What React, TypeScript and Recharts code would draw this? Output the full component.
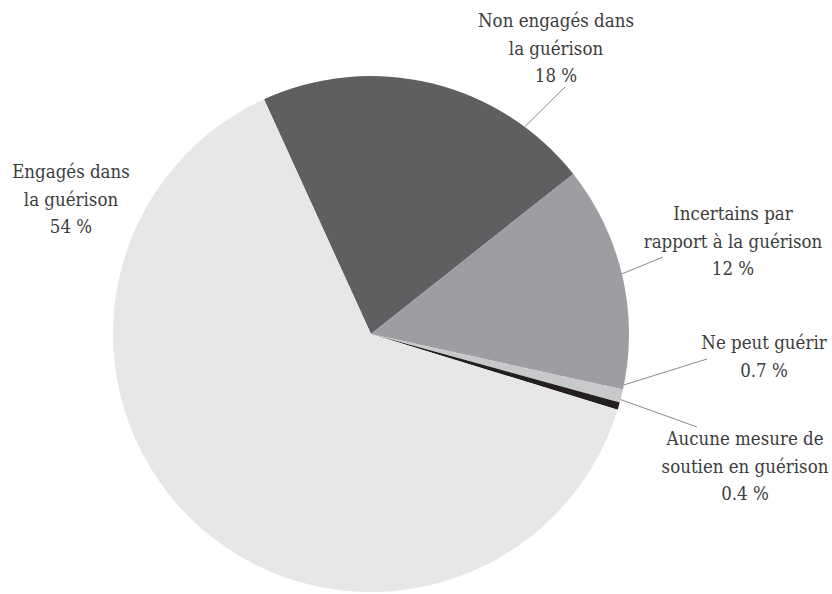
import { PieChart, Pie, Cell } from 'recharts';

// slices in clockwise order, starting at the top-left edge of the dark slice
const categories = [
  'Non engagés dans la guérison',
  'Incertains par rapport à la guérison',
  'Ne peut guérir',
  'Aucune mesure de soutien en guérison',
  'Engagés dans la guérison',
];
const shares = [18, 12, 0.7, 0.4, 54];
const shareLabels = ['18 %', '12 %', '0.7 %', '0.4 %', '54 %'];
const labelLines = [
  ['Non engagés dans', 'la guérison'],
  ['Incertains par', 'rapport à la guérison'],
  ['Ne peut guérir'],
  ['Aucune mesure de', 'soutien en guérison'],
  ['Engagés dans', 'la guérison'],
];

const colors = ['#5f5f61', '#9d9ea1', '#c8c9cb', '#231f20', '#e7e7e8'];

// label text block: centre x, first baseline; leader end point; shift of leader start angle
const labelLayout = [
  { x: 556, y: 27, lx: 565, ly: 87, shift: -23, leader: true },
  { x: 733, y: 220, lx: 663, ly: 257, shift: 0.5, leader: true },
  { x: 764, y: 349, lx: 707, ly: 359, shift: 2.5, leader: true },
  { x: 745, y: 445, lx: 697, ly: 427, shift: 1.5, leader: true },
  { x: 71, y: 178, lx: 0, ly: 0, shift: 0, leader: false },
];

const data = categories.map((name, i) => ({ name, value: shares[i] }));

const RADIAN = Math.PI / 180;
const LINE_H = 27.5;

function renderLabel(props: any) {
  const { cx, cy, midAngle, outerRadius, index } = props;
  const l = labelLayout[index];
  const a = (midAngle + l.shift) * RADIAN;
  const sx = cx + outerRadius * Math.cos(a);
  const sy = cy - outerRadius * Math.sin(a);
  const lines = [...labelLines[index], shareLabels[index]];
  return (
    <g key={`lbl-${index}`}>
      {l.leader && <line x1={sx} y1={sy} x2={l.lx} y2={l.ly} stroke="#8a8a8a" strokeWidth={1} />}
      <text
        x={l.x}
        y={l.y}
        textAnchor="middle"
        fontFamily="DejaVu Serif Condensed"
        fontSize={18.5}
        fill="#3c3c3c"
      >
        {lines.map((t, j) => (
          <tspan key={j} x={l.x} y={l.y + j * LINE_H}>
            {t}
          </tspan>
        ))}
      </text>
    </g>
  );
}

export default function App() {
  return (
    <div style={{ position: 'absolute', left: 0, top: 0, background: '#fff' }}>
      <PieChart width={832} height={594} margin={{ top: 0, right: 0, bottom: 0, left: 0 }}>
        <Pie
          data={data}
          dataKey="value"
          nameKey="name"
          cx={371}
          cy={334}
          outerRadius={258}
          startAngle={114.5}
          endAngle={-245.5}
          stroke="none"
          label={renderLabel}
          labelLine={false}
          isAnimationActive={false}
        >
          {data.map((d, i) => (
            <Cell key={d.name} fill={colors[i]} />
          ))}
        </Pie>
      </PieChart>
    </div>
  );
}
